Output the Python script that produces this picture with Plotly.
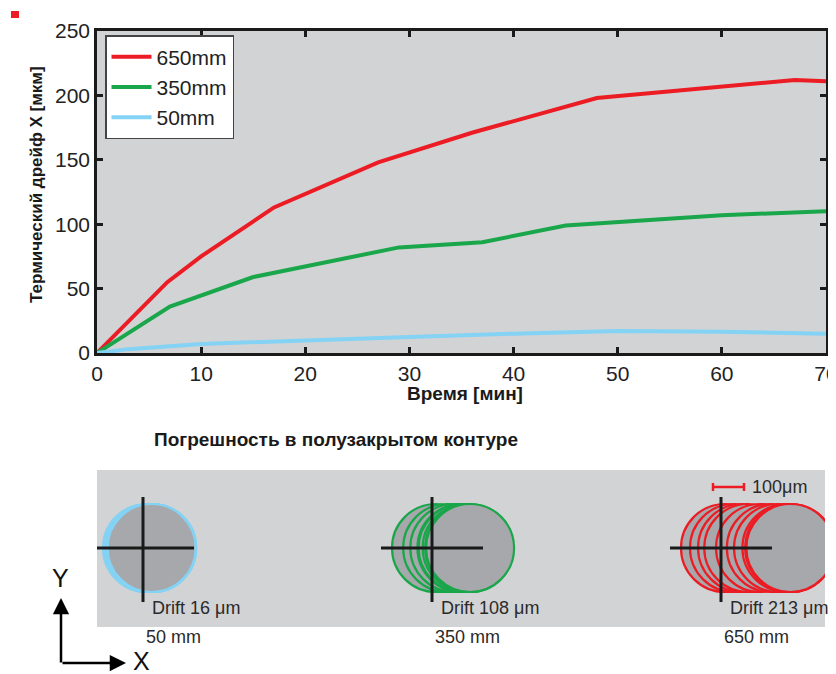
import plotly.graph_objects as go

# ---------------- data ----------------
time_650 = [0, 3.5, 6.75, 10, 17, 27, 36, 48, 60, 67, 70]
drift_650 = [0, 29, 55, 75, 113, 148, 171, 198, 207, 212, 211]
time_350 = [0, 7, 15, 29, 37, 45, 60, 70]
drift_350 = [0, 36, 59, 82, 86, 99, 107, 110]
time_50 = [0, 3, 10, 20, 30, 40, 50, 60, 70]
drift_50 = [0, 3, 7, 10, 12.5, 15, 17, 16.5, 15]

series_names = ["650mm", "350mm", "50mm"]
x_ticks = [0, 10, 20, 30, 40, 50, 60, 70]
y_ticks = [0, 50, 100, 150, 200, 250]

panel_labels = ["50 mm", "350 mm", "650 mm"]
drift_labels = ["Drift 16 μm", "Drift 108 μm", "Drift 213 μm"]
scale_bar_um = 100
scale_label = "100μm"

y_title = "Термический дрейф X [мкм]"
x_title = "Время [мин]"
panel_title = "Погрешность в полузакрытом контуре"

# ---------------- style ----------------
# the page body has an 8px margin; the figure fills the rest of the window
OFF = 8
W, H = 836 - OFF, 674 - OFF
RED, GREEN, BLUE = "#ec1c24", "#1aa64b", "#84d2f4"
BG = "#d2d3d5"
DISC = "#a7a8ab"
FONT = "Liberation Sans"
INK = "#1a1a1a"


def fx(px):
    return (px - OFF) / W


def fy(py):
    return 1 - (py - OFF) / H


fig = go.Figure()
for name, t, d, c in [
    (series_names[0], time_650, drift_650, RED),
    (series_names[1], time_350, drift_350, GREEN),
    (series_names[2], time_50, drift_50, BLUE),
]:
    fig.add_trace(go.Scatter(x=t, y=d, name=name, mode="lines",
                             line=dict(color=c, width=4),
                             xaxis="x", yaxis="y"))

# invisible trace for the lower panel axes
fig.add_trace(go.Scatter(x=[None], y=[None], xaxis="x2", yaxis="y2",
                         showlegend=False, hoverinfo="skip"))

axis_common = dict(showline=True, linecolor=INK, linewidth=2.5, mirror="ticks",
                   ticks="inside", ticklen=6, tickwidth=2.5, tickcolor=INK,
                   showgrid=False, zeroline=False, automargin=False,
                   ticklabeloverflow="allow",
                   tickfont=dict(family=FONT, size=21, color="#222"))

# lower panel geometry: pixels per micron from the 100 um scale bar
PX_PER_UM = 0.31
P_LEFT, P_RIGHT, P_TOP, P_BOTTOM = 97, 825, 470, 627
um = lambda px: px / PX_PER_UM
cy = um(P_BOTTOM - 548)
R = um(44)

fig.update_layout(
    template="none",
    width=W, height=H,
    margin=dict(l=0, r=0, t=0, b=0, autoexpand=False),
    paper_bgcolor="white",
    plot_bgcolor=BG,
    xaxis=dict(domain=[fx(97), fx(826)], range=[0, 70], tickvals=x_ticks,
               anchor="y", **axis_common),
    yaxis=dict(domain=[fy(353), fy(31)], range=[0, 250], tickvals=y_ticks,
               anchor="x", **axis_common),
    xaxis2=dict(domain=[fx(P_LEFT), fx(P_RIGHT)], range=[0, um(P_RIGHT - P_LEFT)],
                visible=False, anchor="y2", automargin=False),
    yaxis2=dict(domain=[fy(P_BOTTOM), fy(P_TOP)], range=[0, um(P_BOTTOM - P_TOP)],
                visible=False, anchor="x2", automargin=False),
    legend=dict(x=fx(105), y=fy(35), xanchor="left", yanchor="top",
                bgcolor="white", bordercolor="#444", borderwidth=1.5,
                font=dict(family=FONT, size=21, color="#222"),
                itemwidth=40, tracegroupgap=0),
    showlegend=True,
)

shapes = []
annotations = []

# group crosshair centres (pixels in the window)
cross_px = [143, 432, 721]
groups = list(zip(cross_px, [drift_50, drift_350, drift_650], [BLUE, GREEN, RED]))
start = um(4)
arm = um(51)
for i, (gpx, drifts, col) in enumerate(groups):
    gx = um(gpx - P_LEFT)
    for d in drifts:
        cx = gx + start + d
        shapes.append(dict(type="circle", xref="x2", yref="y2",
                           x0=cx - R, x1=cx + R, y0=cy - R, y1=cy + R,
                           fillcolor=DISC, line=dict(color=col, width=2.2),
                           layer="above"))
    shapes.append(dict(type="line", xref="x2", yref="y2", x0=gx - arm, x1=gx + arm,
                       y0=cy, y1=cy, line=dict(color=INK, width=3), layer="above"))
    shapes.append(dict(type="line", xref="x2", yref="y2", x0=gx, x1=gx,
                       y0=cy - um(54), y1=cy + um(51), line=dict(color=INK, width=3),
                       layer="above"))
    annotations.append(dict(xref="paper", yref="paper", x=fx(gpx + 7), y=fy(608),
                            text=drift_labels[i], showarrow=False, xanchor="left",
                            yanchor="middle",
                            font=dict(family=FONT, size=18, color="#2a2a2a")))
    annotations.append(dict(xref="paper", yref="paper", x=fx(gpx + 1), y=fy(637),
                            text=panel_labels[i], showarrow=False, xanchor="left",
                            yanchor="middle",
                            font=dict(family=FONT, size=18, color="#2a2a2a")))

# scale bar
sb_x0 = um(713 - P_LEFT)
sb_y = um(P_BOTTOM - 487)
shapes.append(dict(type="line", xref="x2", yref="y2", x0=sb_x0, x1=sb_x0 + scale_bar_um,
                   y0=sb_y, y1=sb_y, line=dict(color=RED, width=2.5)))
for xx in (sb_x0, sb_x0 + scale_bar_um):
    shapes.append(dict(type="line", xref="x2", yref="y2", x0=xx, x1=xx,
                       y0=sb_y - um(4), y1=sb_y + um(4), line=dict(color=RED, width=2.5)))
annotations.append(dict(xref="paper", yref="paper", x=fx(750), y=fy(487),
                        text=scale_label, showarrow=False, xanchor="left",
                        yanchor="middle", font=dict(family=FONT, size=18, color="#2a2a2a")))

# small red marker top-left
shapes.append(dict(type="rect", xref="paper", yref="paper", x0=fx(11), x1=fx(19),
                   y0=fy(18), y1=fy(11), fillcolor=RED, line=dict(width=0)))

# axis titles
annotations.append(dict(xref="paper", yref="paper", x=fx(37), y=fy(185), text=y_title,
                        textangle=-90, showarrow=False, xanchor="center", yanchor="middle",
                        font=dict(family=FONT, size=17, color="#1a1a1a", weight="bold")))
annotations.append(dict(xref="paper", yref="paper", x=fx(465), y=fy(393), text=x_title,
                        showarrow=False, xanchor="center", yanchor="middle",
                        font=dict(family=FONT, size=19, color="#1a1a1a", weight="bold")))
annotations.append(dict(xref="paper", yref="paper", x=fx(152), y=fy(439), text=panel_title,
                        showarrow=False, xanchor="left", yanchor="middle",
                        font=dict(family=FONT, size=19, color="#1a1a1a", weight="bold")))

# XY orientation arrows
annotations.append(dict(xref="paper", yref="paper", x=fx(126), y=fy(663), ax=-65, ay=0,
                        text="", showarrow=True, arrowhead=2, arrowsize=1.3,
                        arrowwidth=2.5, arrowcolor="black", standoff=0))
annotations.append(dict(xref="paper", yref="paper", x=fx(61), y=fy(598), ax=0, ay=66,
                        text="", showarrow=True, arrowhead=2, arrowsize=1.3,
                        arrowwidth=2.5, arrowcolor="black", standoff=0))
annotations.append(dict(xref="paper", yref="paper", x=fx(60), y=fy(578), text="Y",
                        showarrow=False, xanchor="center", yanchor="middle",
                        font=dict(family=FONT, size=25, color="#111")))
annotations.append(dict(xref="paper", yref="paper", x=fx(141), y=fy(661), text="X",
                        showarrow=False, xanchor="center", yanchor="middle",
                        font=dict(family=FONT, size=25, color="#111")))

fig.update_layout(shapes=shapes, annotations=annotations)
fig.write_html("out.html")
